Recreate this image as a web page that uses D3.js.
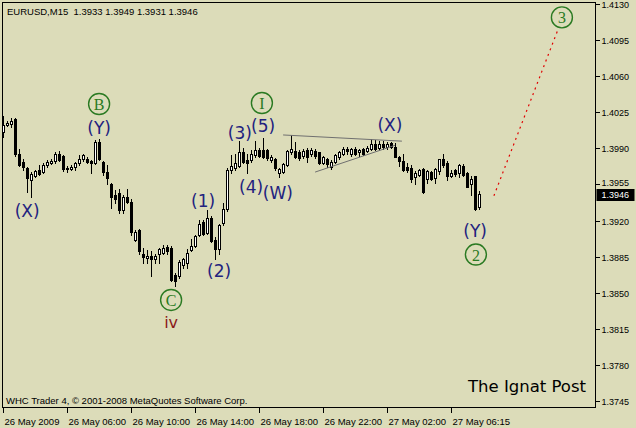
<!DOCTYPE html>
<html><head><meta charset="utf-8">
<script src="https://cdn.jsdelivr.net/npm/d3@7"></script>
<style>html,body{margin:0;padding:0;background:#dcdcb9;}svg{display:block}</style>
</head><body>
<svg id="c" width="636" height="428"></svg>
<script>
// ---- data (EURUSD M15, 120 bars) ----
const opens=[1.4006,1.4013,1.4014,1.4018,1.3985,1.3977,1.3971,1.3959,1.3963,1.3969,
1.3967,1.3974,1.3976,1.3978,1.3985,1.3983,1.3971,1.3970,1.3972,1.3976,
1.3980,1.3980,1.3978,1.3976,1.3996,1.3977,1.3967,1.3955,1.3945,1.3947,
1.3930,1.3943,1.3938,1.3901,1.3911,1.3888,1.3884,1.3886,1.3883,1.3888,
1.3889,1.3894,1.3893,1.3867,1.3866,1.3877,1.3879,1.3891,1.3895,1.3906,
1.3919,1.3908,1.3922,1.3901,1.3892,1.3918,1.3931,1.3969,1.3971,1.3973,
1.3986,1.3979,1.3979,1.3984,1.3988,1.3988,1.3988,1.3979,1.3980,1.3966,
1.3967,1.3974,1.3986,1.3987,1.3986,1.3983,1.3988,1.3985,1.3987,1.3986,
1.3976,1.3980,1.3972,1.3977,1.3982,1.3985,1.3989,1.3985,1.3989,1.3986,
1.3989,1.3987,1.3989,1.3994,1.3990,1.3994,1.3991,1.3995,1.3991,1.3982,
1.3978,1.3972,1.3971,1.3962,1.3964,1.3970,1.3960,1.3967,1.3961,1.3968,
1.3980,1.3976,1.3963,1.3969,1.3966,1.3973,1.3966,1.3955,1.3963,1.3933];
const highs=[1.4021,1.4017,1.4019,1.4019,1.3989,1.3980,1.3972,1.3967,1.3969,1.3974,
1.3976,1.3979,1.3980,1.3986,1.3987,1.3984,1.3973,1.3974,1.3977,1.3984,
1.3985,1.3982,1.3979,1.3998,1.3999,1.3978,1.3974,1.3956,1.3950,1.3951,
1.3945,1.3951,1.3941,1.3911,1.3912,1.3893,1.3891,1.3890,1.3888,1.3893,
1.3896,1.3896,1.3895,1.3869,1.3882,1.3884,1.3892,1.3902,1.3906,1.3921,
1.3921,1.3930,1.3924,1.3904,1.3917,1.3937,1.3971,1.3984,1.3985,1.3997,
1.3990,1.3985,1.3988,1.3997,1.3990,1.4000,1.3989,1.3984,1.3981,1.3971,
1.3976,1.3988,1.4003,1.3996,1.3988,1.3989,1.3990,1.3990,1.3989,1.3986,
1.3983,1.3981,1.3979,1.3985,1.3987,1.3991,1.3991,1.3990,1.3991,1.3989,
1.3990,1.3992,1.3999,1.3998,1.3997,1.3997,1.3996,1.3996,1.3995,1.3983,
1.3985,1.3976,1.3974,1.3968,1.3970,1.3971,1.3969,1.3968,1.3971,1.3980,
1.3985,1.3978,1.3969,1.3970,1.3975,1.3975,1.3967,1.3963,1.3963,1.3949];
const lows=[1.4001,1.4012,1.4011,1.3983,1.3973,1.3969,1.3948,1.3943,1.3962,1.3964,
1.3966,1.3972,1.3975,1.3976,1.3978,1.3968,1.3967,1.3969,1.3969,1.3974,
1.3978,1.3976,1.3966,1.3975,1.3979,1.3964,1.3955,1.3932,1.3937,1.3927,
1.3927,1.3937,1.3906,1.3900,1.3888,1.3879,1.3879,1.3866,1.3879,1.3879,
1.3888,1.3888,1.3861,1.3857,1.3864,1.3874,1.3874,1.3890,1.3894,1.3905,
1.3906,1.3907,1.3899,1.3883,1.3888,1.3916,1.3929,1.3966,1.3969,1.3972,
1.3976,1.3966,1.3977,1.3982,1.3982,1.3981,1.3979,1.3977,1.3969,1.3962,
1.3966,1.3973,1.3985,1.3981,1.3979,1.3981,1.3977,1.3983,1.3981,1.3975,
1.3975,1.3972,1.3970,1.3976,1.3980,1.3984,1.3985,1.3983,1.3984,1.3983,
1.3984,1.3986,1.3988,1.3988,1.3988,1.3989,1.3989,1.3990,1.3982,1.3973,
1.3968,1.3967,1.3957,1.3955,1.3963,1.3947,1.3956,1.3959,1.3956,1.3965,
1.3972,1.3959,1.3962,1.3963,1.3962,1.3963,1.3953,1.3945,1.3930,1.3931];
const closes=[1.4013,1.4015,1.4017,1.3985,1.3974,1.3972,1.3961,1.3965,1.3968,1.3965,
1.3974,1.3977,1.3978,1.3985,1.3979,1.3970,1.3970,1.3972,1.3976,1.3980,
1.3984,1.3977,1.3976,1.3996,1.3980,1.3967,1.3961,1.3943,1.3941,1.3930,
1.3943,1.3938,1.3909,1.3909,1.3890,1.3885,1.3886,1.3883,1.3886,1.3892,
1.3893,1.3890,1.3862,1.3861,1.3880,1.3883,1.3889,1.3895,1.3905,1.3917,
1.3907,1.3922,1.3900,1.3892,1.3916,1.3931,1.3969,1.3973,1.3976,1.3986,
1.3977,1.3976,1.3985,1.3988,1.3983,1.3982,1.3981,1.3982,1.3971,1.3970,
1.3975,1.3987,1.3989,1.3982,1.3981,1.3987,1.3982,1.3988,1.3983,1.3976,
1.3982,1.3975,1.3977,1.3984,1.3986,1.3989,1.3987,1.3989,1.3985,1.3988,
1.3985,1.3990,1.3994,1.3989,1.3994,1.3991,1.3994,1.3991,1.3982,1.3978,
1.3969,1.3969,1.3960,1.3966,1.3969,1.3948,1.3968,1.3960,1.3970,1.3980,
1.3974,1.3963,1.3966,1.3965,1.3974,1.3964,1.3953,1.3960,1.3931,1.3946];

const tickBars=[0,16,32,48,64,80,96,112];
const tickLabels=["26 May 2009","26 May 06:00","26 May 10:00","26 May 14:00","26 May 18:00","26 May 22:00","27 May 02:00","27 May 06:15"];
const priceTicks=[1.4130,1.4095,1.4060,1.4025,1.3990,1.3955,1.3920,1.3885,1.3850,1.3815,1.3780,1.3745];
const lastPrice=1.3946;

// wave annotations
const waveText=["(X)","(Y)","(1)","(2)","(3)","(4)","(5)","(W)","(X)","(Y)"];
const waveBar=[5.9,23.9,49.9,53.9,59.1,61.9,64.9,68.6,96.6,117.9];
const wavePrice=[1.3929,1.4010,1.3939,1.3871,1.4005,1.3953,1.4012,1.3947,1.4013,1.3910];
const circText=["B","C","I","2","3"];
const circBar=[23.9,41.9,64.6,118.1,139.6];
const circPrice=[1.4033,1.3843,1.4034,1.3887,1.4117];
const romanText=["iv"]; const romanBar=[41.9]; const romanPrice=[1.3821];

// trendlines (triangle) and projection
const upperBars=[69.9,99.6], upperPrices=[1.4003,1.3997];
const lowerBars=[77.9,97.9], lowerPrices=[1.3967,1.3993];
const projBars=[122.6,138.6], projPrices=[1.3944,1.4105];

// ---- drawing ----
const svg=d3.select("#c");
const BG="#dcdcb9";
svg.append("rect").attr("width",636).attr("height",428).attr("fill",BG);
const L=2.5,T=2.5,R=595.5,B=407.5;
const x=d3.scaleLinear().domain([0,148]).range([3.5,595.5]);
const y=d3.scaleLinear().domain([1.3745,1.4130]).range([401,4]);

svg.append("clipPath").attr("id","cp").append("rect").attr("x",L).attr("y",T).attr("width",R-L).attr("height",B-T);
const plot=svg.append("g").attr("clip-path","url(#cp)");

const bars=d3.range(opens.length).map(i=>({i,o:opens[i],h:highs[i],l:lows[i],c:closes[i]}));
const cg=plot.append("g").attr("shape-rendering","crispEdges");
bars.forEach(d=>{
  const cx=x(d.i);
  const yh=Math.round(y(d.h)), yl=Math.round(y(d.l));
  cg.append("line").attr("x1",cx).attr("x2",cx).attr("y1",yh).attr("y2",yl+1).attr("stroke","#000");
  const top=Math.round(y(Math.max(d.o,d.c))), bot=Math.round(y(Math.min(d.o,d.c)));
  if(d.c>=d.o && bot-top>=2){
    cg.append("rect").attr("x",cx-1).attr("y",top+0.5).attr("width",2).attr("height",bot-top).attr("fill","#fff").attr("stroke","#000");
  } else {
    cg.append("rect").attr("x",cx-1.5).attr("y",top).attr("width",3).attr("height",Math.max(1,bot-top+1)).attr("fill","#000");
  }
});

// trendlines
const ln=d3.line().x(d=>x(d[0])).y(d=>y(d[1]));
plot.append("path").attr("d",ln(upperBars.map((b,i)=>[b,upperPrices[i]]))).attr("stroke","#707070").attr("fill","none").attr("stroke-width",1);
plot.append("path").attr("d",ln(lowerBars.map((b,i)=>[b,lowerPrices[i]]))).attr("stroke","#707070").attr("fill","none").attr("stroke-width",1);
plot.append("path").attr("d",ln(projBars.map((b,i)=>[b,projPrices[i]]))).attr("stroke","#e00000").attr("fill","none").attr("stroke-width",1.2).attr("stroke-dasharray","2,4");

// wave labels
plot.selectAll("text.w").data(waveText).enter().append("text").attr("class","w")
  .attr("x",(d,i)=>x(waveBar[i])).attr("y",(d,i)=>y(wavePrice[i]))
  .attr("text-anchor","middle").attr("dominant-baseline","central")
  .attr("font-family","DejaVu Sans, Verdana, sans-serif").attr("font-size",17)
  .attr("fill","#22227f").text(d=>d);
// circled labels
circText.forEach((t,i)=>{
  const cx=x(circBar[i]), cy=y(circPrice[i]);
  plot.append("circle").attr("cx",cx).attr("cy",cy).attr("r",10.5).attr("fill","none").attr("stroke","#2a7a22").attr("stroke-width",1.4);
  plot.append("text").attr("x",cx).attr("y",cy+0.5).attr("text-anchor","middle").attr("dominant-baseline","central")
    .attr("font-family","Liberation Serif, Times New Roman, serif").attr("font-size",16).attr("fill","#2a7a22").text(t);
});
romanText.forEach((t,i)=>{
  plot.append("text").attr("x",x(romanBar[i])).attr("y",y(romanPrice[i])).attr("text-anchor","middle").attr("dominant-baseline","central")
    .attr("font-family","DejaVu Sans, Verdana, sans-serif").attr("font-size",16).attr("fill","#8b1a1a").text(t);
});

// header & footer text
const F="Liberation Sans, Arial, sans-serif";
svg.append("text").attr("x",7).attr("y",15).attr("font-family",F).attr("font-size",9.5).attr("fill","#000")
  .attr("xml:space","preserve").text("EURUSD,M15  1.3933 1.3949 1.3931 1.3946");
svg.append("text").attr("x",6).attr("y",404).attr("font-family",F).attr("font-size",9.5).attr("fill","#000")
  .text("WHC Trader 4, \u00a9 2001-2008 MetaQuotes Software Corp.");
svg.append("text").attr("x",527).attr("y",392).attr("text-anchor","middle").attr("font-family","DejaVu Sans, Verdana, sans-serif").attr("font-size",16.5).attr("fill","#000")
  .text("The Ignat Post");

// frame
svg.append("rect").attr("x",L).attr("y",T).attr("width",R-L).attr("height",B-T).attr("fill","none").attr("stroke","#000").attr("shape-rendering","crispEdges");

// price axis
const ya=svg.append("g").attr("shape-rendering","crispEdges");
const ly=y(lastPrice);
priceTicks.forEach(p=>{
  const yy=Math.round(y(p))+0.5;
  ya.append("line").attr("x1",R).attr("x2",R+4).attr("y1",yy).attr("y2",yy).attr("stroke","#000");
  const near=Math.abs(yy-ly)<12 && yy<ly;
  svg.append("text").attr("x",R+6).attr("y",near?yy-2:yy).attr("dominant-baseline","central").attr("font-family",F).attr("font-size",9).attr("fill","#000").text(d3.format(".4f")(p));
});
svg.append("rect").attr("x",R+1).attr("y",Math.round(ly)-5).attr("width",38).attr("height",12).attr("fill","#000");
svg.append("text").attr("x",R+6).attr("y",ly+1.5).attr("dominant-baseline","central").attr("font-family",F).attr("font-size",9).attr("fill","#fff").text(d3.format(".4f")(lastPrice));

// time axis
tickBars.forEach((b,i)=>{
  const xx=Math.round(x(b))-0.5;
  ya.append("line").attr("x1",xx).attr("x2",xx).attr("y1",B).attr("y2",B+5).attr("stroke","#000");
  svg.append("text").attr("x",xx+1).attr("y",425).attr("font-family",F).attr("font-size",9.5).attr("fill","#000").text(tickLabels[i]);
});
</script>
</body></html>
